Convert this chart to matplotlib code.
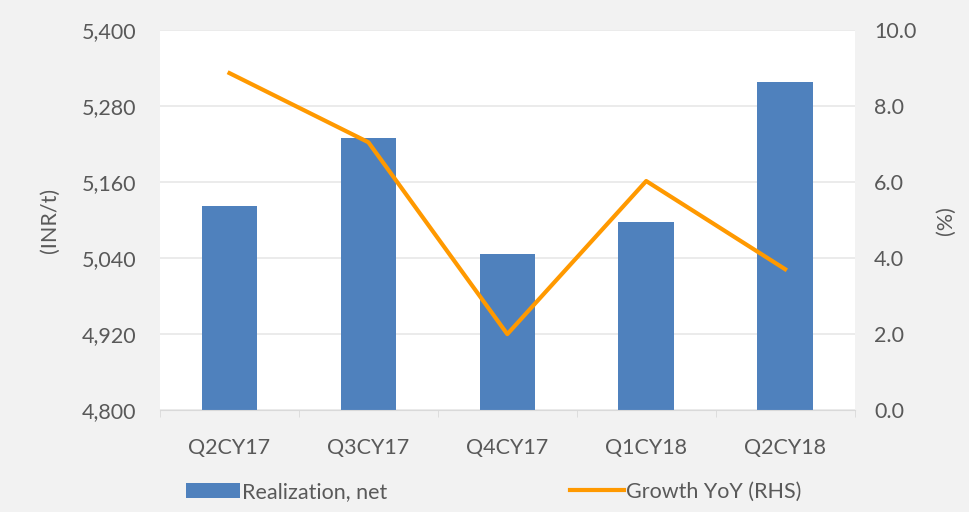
import matplotlib
matplotlib.use("Agg")
import matplotlib.pyplot as plt
from matplotlib.ticker import FuncFormatter

quarters = ["Q2CY17", "Q3CY17", "Q4CY17", "Q1CY18", "Q2CY18"]
realization = [5122, 5230, 5046, 5097, 5318]
growth_yoy = [8.87, 7.05, 2.0, 6.03, 3.71]

plt.rcParams['font.family'] = ['Lato', 'DejaVu Sans']
txt = '#595959'
fs = 15.5

fig = plt.figure(figsize=(9.7, 5.12), dpi=100, facecolor='#f2f2f2')
ax = fig.add_axes([0.165, 0.199, 0.716, 0.742])
ax.set_facecolor('white')

x = list(range(len(quarters)))
ax.bar(x, realization, width=0.4, color='#4f81bd', zorder=2, label='Realization, net')
ax.set_ylim(4800, 5400)
ax.set_yticks([4800, 4920, 5040, 5160, 5280, 5400])
ax.yaxis.set_major_formatter(FuncFormatter(lambda v, p: "{:,.0f}".format(v)))
ax.set_xlim(-0.5, len(quarters) - 0.5)
ax.set_xticks(x)
ax.set_xticklabels(quarters)
ax.set_xticks([i + 0.5 for i in range(-1, len(quarters))], minor=True)
ax.tick_params(axis='x', which='major', length=0, pad=20, labelsize=fs, colors=txt)
ax.tick_params(axis='x', which='minor', length=5, color='#d9d9d9')
ax.tick_params(axis='y', length=0, pad=17, labelsize=fs, colors=txt)
ax.grid(axis='y', color='#e8e8e8', linewidth=1.2, zorder=0)
for s in ['top', 'left', 'right']:
    ax.spines[s].set_visible(False)
ax.spines['bottom'].set_color('#d9d9d9')
ax.set_ylabel('(INR/t)', fontsize=fs, color=txt, labelpad=16)

ax2 = ax.twinx()
ax2.plot(x, growth_yoy, color='#ff9900', linewidth=3, zorder=3, label='Growth YoY (RHS)')
ax2.set_ylim(0, 10)
ax2.set_yticks([0, 2, 4, 6, 8, 10])
ax2.yaxis.set_major_formatter(FuncFormatter(lambda v, p: "{:.1f}".format(v)))
ax2.tick_params(axis='y', length=0, pad=14, labelsize=fs, colors=txt)
for s in ['top', 'left', 'right', 'bottom']:
    ax2.spines[s].set_visible(False)
ax2.set_ylabel('(%)', fontsize=fs, color=txt, rotation=90, labelpad=14)

h1, l1 = ax.get_legend_handles_labels()
h2, l2 = ax2.get_legend_handles_labels()
fig.legend(h1 + h2, l1 + l2, loc='lower left', bbox_to_anchor=(0.172, -0.018), ncol=2,
           frameon=False, fontsize=fs, labelcolor=txt, columnspacing=8.5,
           handlelength=2.5, handletextpad=0.1)

plt.savefig('out.png', facecolor=fig.get_facecolor())
